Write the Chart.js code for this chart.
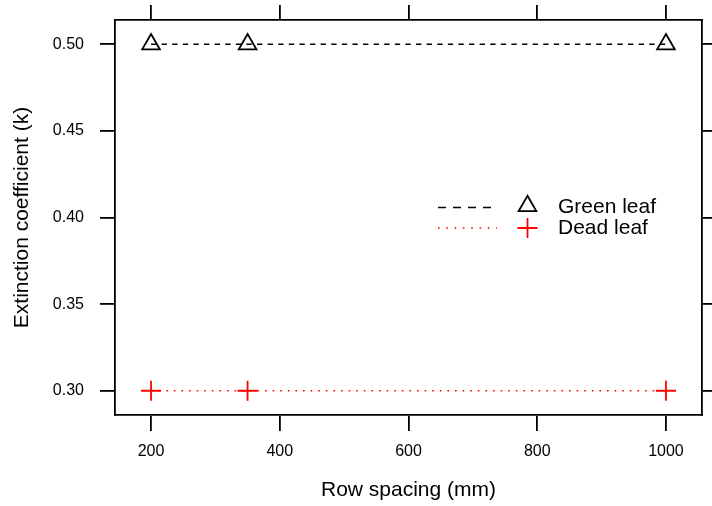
<!DOCTYPE html>
<html>
<head>
<meta charset="utf-8">
<script src="https://cdn.jsdelivr.net/npm/chart.js@4/dist/chart.umd.min.js"></script>
<style>
  html, body { margin: 0; padding: 0; background: #fff; }
  #wrap { width: 712px; height: 506px; }
</style>
</head>
<body>
<div id="wrap"><canvas id="c" width="712" height="506"></canvas></div>
<script>
// Row spacing treatments (mm) and measured extinction coefficients
const rowSpacing = [200, 350, 1000];
const greenLeafK = [0.50, 0.50, 0.50];
const deadLeafK  = [0.30, 0.30, 0.30];

// Axis ticks
const xTicks = [200, 400, 600, 800, 1000];
const yTicks = [0.30, 0.35, 0.40, 0.45, 0.50];

// Series names and colours
const seriesNames  = ['Green leaf', 'Dead leaf'];
const seriesColors = ['#000000', '#ff0000'];

const FONT = "'Liberation Sans', Arial, Helvetica, sans-serif";
Chart.defaults.font.family = FONT;
Chart.defaults.color = '#000';

// Pad the data range by 7% on each side
function padded(vals) {
  const lo = Math.min(...vals), hi = Math.max(...vals), d = (hi - lo) * 0.07;
  return { min: lo - d, max: hi + d };
}
const xr = padded(xTicks);
const yr = padded(yTicks);

const AXW = 1.8;   // box and tick mark width
const LW = 1.6;    // series line width

// Fix an axis box to an exact size and drop label overflow padding
function fixSize(prop, size) {
  return s => {
    s[prop] = size;
    s.paddingTop = 0; s.paddingBottom = 0; s.paddingLeft = 0; s.paddingRight = 0;
  };
}

function axisBase(ticksArr, extra) {
  return Object.assign({
    type: 'linear',
    afterBuildTicks: s => { s.ticks = ticksArr.map(v => ({ value: v })); },
    grid: { drawOnChartArea: false, drawTicks: true, tickLength: 15, color: '#000', lineWidth: AXW },
    border: { display: true, color: '#000', width: AXW },
  }, extra);
}

// Legend drawn inside the panel
const keyPlugin = {
  id: 'key',
  afterDraw(chart) {
    const ctx = chart.ctx;
    const rows = [
      { y: 207.5, dash: [8, 7],     end: 493, marker: 'triangle' },
      { y: 228,   dash: [1.6, 6.7], end: 497, marker: 'plus' }
    ];
    ctx.save();
    rows.forEach((r, i) => {
      ctx.strokeStyle = seriesColors[i];
      ctx.lineWidth = LW;
      ctx.setLineDash(r.dash);
      ctx.beginPath();
      ctx.moveTo(438, r.y);
      ctx.lineTo(r.end, r.y);
      ctx.stroke();
      ctx.setLineDash([]);
      ctx.lineWidth = 1.8;
      const cx = 527.5, cy = r.y - (r.marker === 'triangle' ? 1.5 : 0);
      ctx.beginPath();
      if (r.marker === 'triangle') {
        const R = 10.2;
        for (let k = 0; k < 3; k++) {
          const a = k * 2 * Math.PI / 3;
          const px = cx + Math.sin(a) * R, py = cy - Math.cos(a) * R;
          if (k === 0) ctx.moveTo(px, py); else ctx.lineTo(px, py);
        }
        ctx.closePath();
      } else {
        const R = 10;
        ctx.moveTo(cx - R, cy); ctx.lineTo(cx + R, cy);
        ctx.moveTo(cx, cy - R); ctx.lineTo(cx, cy + R);
      }
      ctx.stroke();
      ctx.fillStyle = '#000';
      ctx.font = '21px ' + FONT;
      ctx.textBaseline = 'middle';
      ctx.textAlign = 'left';
      ctx.fillText(seriesNames[i], 558, r.y);
    });
    ctx.restore();
  }
};

new Chart(document.getElementById('c'), {
  type: 'scatter',
  data: {
    datasets: [
      {
        label: seriesNames[0],
        data: rowSpacing.map((x, i) => ({ x, y: greenLeafK[i] })),
        showLine: true,
        borderColor: seriesColors[0],
        borderWidth: LW,
        borderDash: [5.3, 5.3],
        pointStyle: 'triangle',
        pointRadius: 10.2,
        pointBorderWidth: 1.8,
        pointBorderColor: seriesColors[0],
        pointBackgroundColor: 'rgba(0,0,0,0)',
        xAxisID: 'x', yAxisID: 'y'
      },
      {
        label: seriesNames[1],
        data: rowSpacing.map((x, i) => ({ x, y: deadLeafK[i] })),
        showLine: true,
        borderColor: seriesColors[1],
        borderWidth: LW,
        borderDash: [1.6, 6],
        pointStyle: 'cross',
        pointRadius: 10,
        pointBorderWidth: 1.8,
        pointBorderColor: seriesColors[1],
        pointBackgroundColor: 'rgba(0,0,0,0)',
        xAxisID: 'x', yAxisID: 'y'
      }
    ]
  },
  options: {
    responsive: false,
    animation: false,
    devicePixelRatio: 1,
    layout: { padding: 0, autoPadding: false },
    plugins: { legend: { display: false }, tooltip: { enabled: false } },
    scales: {
      x: axisBase(xTicks, {
        position: 'bottom', axis: 'x', min: xr.min, max: xr.max,
        afterFit: fixSize('height', 91),
        grid: { drawOnChartArea: false, drawTicks: true, tickLength: 16, color: '#000', lineWidth: AXW },
        ticks: { font: { size: 16 }, padding: 11, maxRotation: 0, autoSkip: false, callback: v => String(v) },
        title: { display: true, text: 'Row spacing (mm)', font: { size: 21 }, padding: { top: 0, bottom: 3 } }
      }),
      x2: axisBase(xTicks, {
        position: 'top', axis: 'x', min: xr.min, max: xr.max,
        afterFit: fixSize('height', 20),
        ticks: { display: false }
      }),
      y: axisBase(yTicks, {
        position: 'left', axis: 'y', min: yr.min, max: yr.max,
        afterFit: fixSize('width', 115),
        ticks: { font: { size: 16 }, padding: 16, autoSkip: false, callback: v => v.toFixed(2) },
        title: { display: true, text: 'Extinction coefficient (k)', font: { size: 21 }, padding: { top: 10, bottom: 0 } }
      }),
      y2: axisBase(yTicks, {
        position: 'right', axis: 'y', min: yr.min, max: yr.max,
        afterFit: fixSize('width', 10),
        ticks: { display: false }
      })
    }
  },
  plugins: [keyPlugin]
});
</script>
</body>
</html>
